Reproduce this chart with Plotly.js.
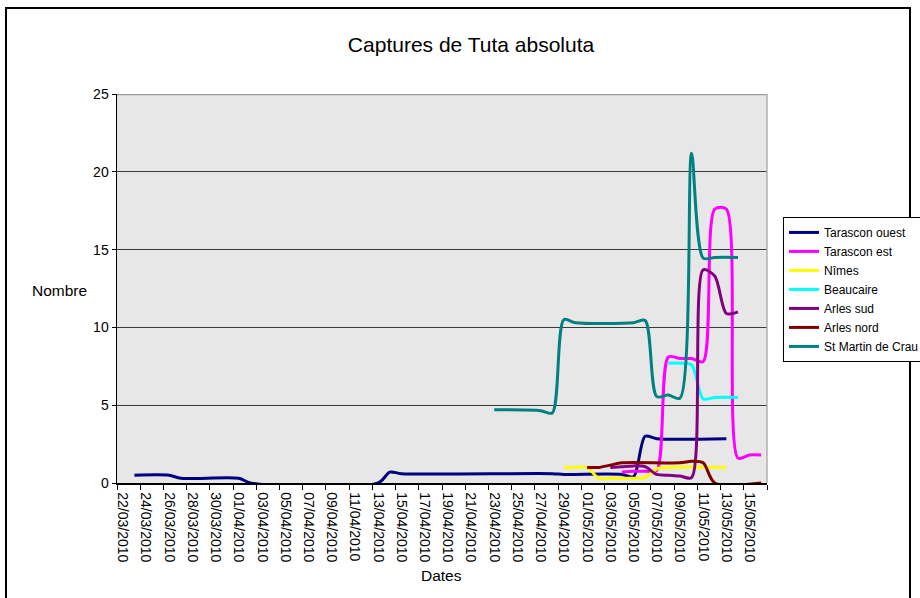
<!DOCTYPE html>
<html>
<head>
<meta charset="utf-8">
<script src="https://cdn.plot.ly/plotly-3.0.1.min.js"></script>
<style>
  html, body { margin: 0; padding: 0; background: #fff; }
  #wrap { position: relative; width: 920px; height: 598px; overflow: hidden; }
  #frame { position: absolute; left: 5px; top: 7px; width: 906px; height: 600px; border: 2px solid #000; box-sizing: border-box; }
  #plot { position: absolute; left: 0; top: 0; width: 920px; height: 598px; }
</style>
</head>
<body>
<div id="wrap">
  <div id="frame"></div>
  <div id="plot"></div>
</div>
<script>
// ---- Data ----
const seriesNames = ["Tarascon ouest", "Tarascon est", "Nîmes", "Beaucaire", "Arles sud", "Arles nord", "St Martin de Crau"];
const seriesColors = ["#000080", "#FF00FF", "#FFFF00", "#00FFFF", "#800080", "#800000", "#008080"];

const tarasconOuestDates = ["2010-03-23","2010-03-26","2010-03-27","2010-04-01","2010-04-02","2010-04-13","2010-04-14","2010-04-15","2010-04-28","2010-04-29","2010-05-04","2010-05-05","2010-05-06","2010-05-07","2010-05-13"];
const tarasconOuestValues = [0.5, 0.5, 0.3, 0.3, 0, 0, 0.7, 0.6, 0.6, 0.55, 0.55, 0.4, 3.0, 2.85, 2.85];

const tarasconEstDates = ["2010-05-04","2010-05-05","2010-05-06","2010-05-07","2010-05-08","2010-05-09","2010-05-10","2010-05-11","2010-05-12","2010-05-13","2010-05-14","2010-05-15","2010-05-16"];
const tarasconEstValues = [0.7, 0.75, 0.75, 0.8, 8.1, 8.0, 8.0, 7.8, 17.6, 17.6, 1.6, 1.8, 1.8];

const nimesDates = ["2010-04-29","2010-04-30","2010-05-01","2010-05-02","2010-05-03","2010-05-04","2010-05-05","2010-05-06","2010-05-07","2010-05-08","2010-05-13"];
const nimesValues = [1.0, 1.0, 1.0, 0.3, 0.3, 0.3, 0.3, 0.35, 0.9, 1.0, 1.0];

const beaucaireDates = ["2010-05-08","2010-05-09","2010-05-10","2010-05-11","2010-05-12","2010-05-14"];
const beaucaireValues = [7.7, 7.7, 7.6, 5.4, 5.5, 5.5];

const arlesSudDates = ["2010-05-03","2010-05-04","2010-05-05","2010-05-06","2010-05-07","2010-05-08","2010-05-09","2010-05-10","2010-05-11","2010-05-12","2010-05-13","2010-05-14"];
const arlesSudValues = [1.0, 1.05, 1.1, 1.05, 0.55, 0.5, 0.45, 0.35, 13.7, 13.3, 10.9, 11.0];

const arlesNordDates = ["2010-05-01","2010-05-02","2010-05-03","2010-05-04","2010-05-09","2010-05-10","2010-05-11","2010-05-12","2010-05-16"];
const arlesNordValues = [1.0, 1.0, 1.15, 1.3, 1.3, 1.4, 1.3, 0, 0];

const stMartinDates = ["2010-04-23","2010-04-27","2010-04-28","2010-04-29","2010-04-30","2010-05-05","2010-05-06","2010-05-07","2010-05-08","2010-05-09","2010-05-10","2010-05-11","2010-05-12","2010-05-14"];
const stMartinValues = [4.7, 4.65, 4.5, 10.5, 10.3, 10.3, 10.45, 5.55, 5.65, 5.45, 21.2, 14.45, 14.5, 14.5];

const allDates = [tarasconOuestDates, tarasconEstDates, nimesDates, beaucaireDates, arlesSudDates, arlesNordDates, stMartinDates];
const allValues = [tarasconOuestValues, tarasconEstValues, nimesValues, beaucaireValues, arlesSudValues, arlesNordValues, stMartinValues];

const titleText = "Captures de Tuta absoluta";
const xTitleText = "Dates";
const yTitleText = "Nombre";

// ---- Build chart ----
const FONT = "Arial, 'Liberation Sans', sans-serif";
const traces = seriesNames.map((name, i) => ({
  type: "scatter",
  mode: "lines",
  name: name,
  x: allDates[i],
  y: allValues[i],
  line: { color: seriesColors[i], width: 3, shape: "spline", smoothing: 0.8 },
  hoverinfo: "x+y+name"
}));

const DAY = 86400000;
const layout = {
  width: 920,
  height: 598,
  paper_bgcolor: "rgba(0,0,0,0)",
  plot_bgcolor: "#e7e7e7",
  margin: { l: 117, r: 153, t: 94, b: 115, autoexpand: false },
  font: { family: FONT, color: "#000" },
  title: {
    text: titleText,
    font: { family: FONT, size: 21, color: "#000" },
    x: 0.512, xref: "container", xanchor: "center",
    y: 0.926, yref: "container", yanchor: "middle"
  },
  xaxis: {
    type: "date",
    range: ["2010-03-21 12:00", "2010-05-16 12:00"],
    tick0: "2010-03-22",
    dtick: 2 * DAY,
    tickformat: "%d/%m/%Y",
    tickangle: 90,
    ticks: "",
    ticklabelstandoff: 5,
    tickfont: { family: FONT, size: 14, color: "#000" },
    minor: { tick0: "2010-03-23 12:00", dtick: 2 * DAY, ticks: "outside", ticklen: 5, tickcolor: "#000", tickwidth: 1, showgrid: false },
    showline: true, linecolor: "#000", linewidth: 1.5,
    showgrid: false, zeroline: false, fixedrange: true, automargin: false
  },
  yaxis: {
    range: [0, 25],
    dtick: 5,
    tick0: 0,
    ticks: "outside", ticklen: 4, tickcolor: "#000",
    tickfont: { family: FONT, size: 14, color: "#000" },
    showline: true, linecolor: "#000", linewidth: 1.5,
    showgrid: true, gridcolor: "#3a3a3a", gridwidth: 1,
    zeroline: false, fixedrange: true, automargin: false
  },
  shapes: [
    { type: "line", xref: "paper", yref: "y", x0: 0, x1: 1, y0: 25, y1: 25, line: { color: "#9a9a9a", width: 2.5 } },
    { type: "line", xref: "paper", yref: "paper", x0: 1, x1: 1, y0: 0, y1: 1, line: { color: "#b0b0b0", width: 1.5 } }
  ],
  annotations: [
    { text: yTitleText, xref: "paper", yref: "paper", x: -0.088, y: 0.496, xanchor: "center", yanchor: "middle", showarrow: false, font: { family: FONT, size: 15.5, color: "#000" } },
    { text: xTitleText, xref: "paper", yref: "paper", x: 0.4985, y: -0.239, xanchor: "center", yanchor: "middle", showarrow: false, font: { family: FONT, size: 15.5, color: "#000" } }
  ],
  legend: {
    x: 1.0246, xanchor: "left",
    y: 0.684, yanchor: "top",
    bgcolor: "#ffffff",
    bordercolor: "#000", borderwidth: 1,
    font: { family: FONT, size: 12, color: "#000" },
    itemwidth: 30,
    tracegroupgap: 0
  },
  showlegend: true
};

Plotly.newPlot("plot", traces, layout, { staticPlot: true, displayModeBar: false });
</script>
</body>
</html>
